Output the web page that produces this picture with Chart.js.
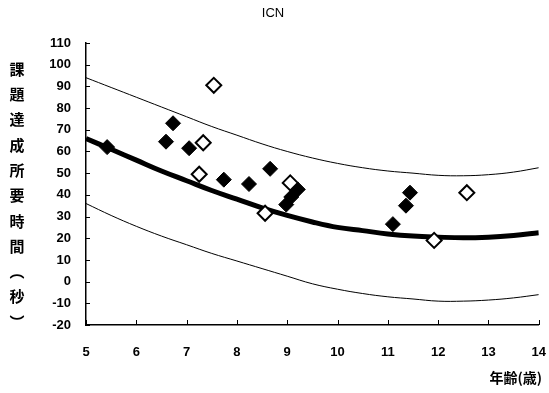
<!DOCTYPE html>
<html>
<head>
<meta charset="utf-8">
<script src="https://cdn.jsdelivr.net/npm/chart.js@4"></script>
<style>
  html, body { margin: 0; padding: 0; background: #fff; }
  #wrap { width: 549px; height: 393px; position: relative; }
</style>
</head>
<body>
<div id="wrap"><canvas id="grafica"></canvas></div>
<script>
// ages along the fitted curves
const edades = [5, 5.5, 6, 6.5, 7, 7.5, 8, 8.5, 9, 9.5, 10, 10.5, 11, 11.5, 12, 12.5, 13, 13.5, 14]
const curvaMedia = [66, 61, 56, 51, 46.5, 42, 38, 34, 30.5, 27.5, 25, 23.5, 22, 21, 20.5, 20.2, 20.5, 21.3, 22.5]
const curvaSuperior = [94, 89.5, 85, 80.5, 76, 71.5, 67.5, 63.5, 60, 57, 54.5, 52.5, 51, 50, 49, 48.8, 49.3, 50.5, 52.5]
const curvaInferior = [36, 30.5, 25.5, 21, 17, 13, 9.5, 6, 2.5, -1, -3.5, -5.5, -7, -8, -9, -9, -8.5, -7.5, -6]

// filled diamonds
const llenosX = [5.42, 6.59, 6.73, 7.05, 7.74, 8.24, 8.66, 8.98, 9.08, 9.21, 11.1, 11.36, 11.44]
const llenosY = [62, 64.5, 73, 61.5, 47, 45, 52, 35.5, 39, 42.5, 26.5, 35, 41]
// hollow diamonds
const vaciosX = [7.25, 7.33, 7.54, 8.56, 9.06, 11.92, 12.57]
const vaciosY = [49.5, 64, 90.5, 31.5, 45.5, 19, 41]

const ticksY = [-20, 110, 10]
const ticksX = [5, 14, 1]

const titulo = 'ICN'
const tituloY = ['課', '題', '達', '成', '所', '要', '時', '間', '︵', '秒', '︶']
const tituloX = '年齢(歳)'

const pares = (xs, ys) => xs.map((x, i) => ({ x: x, y: ys[i] }))

const textos = {
    id: 'textos',
    afterDraw(chart) {
        const ctx = chart.ctx
        const { x, y } = chart.scales
        ctx.save()
        // inside tick marks
        ctx.strokeStyle = '#000'
        ctx.lineWidth = 1
        ctx.beginPath()
        y.ticks.forEach(t => {
            const py = Math.round(y.getPixelForValue(t.value)) + 0.5
            ctx.moveTo(chart.chartArea.left, py)
            ctx.lineTo(chart.chartArea.left + 4, py)
        })
        x.ticks.forEach(t => {
            const px = Math.round(x.getPixelForValue(t.value)) + 0.5
            ctx.moveTo(px, chart.chartArea.bottom)
            ctx.lineTo(px, chart.chartArea.bottom - 5)
        })
        ctx.stroke()

        ctx.fillStyle = '#000'
        ctx.textAlign = 'center'
        ctx.textBaseline = 'middle'
        ctx.font = '13px "Liberation Sans", Arial, sans-serif'
        ctx.fillText(titulo, 273, 13)

        ctx.font = 'bold 15px "Noto Sans CJK JP", sans-serif'
        tituloY.forEach((c, i) => {
            ctx.fillText(c, 17, 69 + i * 25.3)
        })
        ctx.font = 'bold 14px "Noto Sans CJK JP", sans-serif'
        ctx.textAlign = 'right'
        ctx.fillText(tituloX, 542, 378)
        ctx.restore()
    }
}

new Chart(document.querySelector('#grafica'), {
    type: 'scatter',
    data: {
        datasets: [
            {
                label: 'vacios',
                data: pares(vaciosX, vaciosY),
                pointStyle: 'rectRot',
                pointRadius: 7.5,
                pointHoverRadius: 7.5,
                pointBackgroundColor: '#fff',
                pointBorderColor: '#000',
                pointBorderWidth: 2,
                order: 1
            },
            {
                label: 'llenos',
                data: pares(llenosX, llenosY),
                pointStyle: 'rectRot',
                pointRadius: 7.5,
                pointHoverRadius: 7.5,
                pointBackgroundColor: '#000',
                pointBorderColor: '#000',
                pointBorderWidth: 1,
                order: 2
            },
            {
                label: 'media',
                type: 'line',
                data: pares(edades, curvaMedia),
                borderColor: '#000',
                borderWidth: 5,
                pointRadius: 0,
                tension: 0.4,
                fill: false,
                order: 3
            },
            {
                label: 'superior',
                type: 'line',
                data: pares(edades, curvaSuperior),
                borderColor: '#000',
                borderWidth: 1,
                pointRadius: 0,
                tension: 0.4,
                fill: false,
                order: 4
            },
            {
                label: 'inferior',
                type: 'line',
                data: pares(edades, curvaInferior),
                borderColor: '#000',
                borderWidth: 1,
                pointRadius: 0,
                tension: 0.4,
                fill: false,
                order: 5
            }
        ]
    },
    options: {
        responsive: true,
        maintainAspectRatio: false,
        animation: false,
        layout: { padding: { left: 0, right: 10, top: 43, bottom: 28 } },
        plugins: {
            legend: { display: false },
            tooltip: { enabled: false },
            title: { display: false }
        },
        scales: {
            x: {
                type: 'linear',
                min: ticksX[0],
                max: ticksX[1],
                grid: { display: false, drawTicks: true, tickLength: 17 },
                border: { display: true, color: '#000', width: 1.5 },
                ticks: {
                    stepSize: ticksX[2],
                    padding: 3,
                    color: '#000',
                    font: { family: '"Liberation Sans", Arial, sans-serif', size: 13, weight: 'bold' }
                },
                afterFit: s => { s.height = 40 }
            },
            y: {
                min: ticksY[0],
                max: ticksY[1],
                grid: { display: false, drawTicks: true, tickLength: 12 },
                border: { display: true, color: '#000', width: 1.5 },
                ticks: {
                    stepSize: ticksY[2],
                    padding: 3,
                    color: '#000',
                    font: { family: '"Liberation Sans", Arial, sans-serif', size: 13, weight: 'bold' }
                },
                afterFit: s => { s.width = 86 }
            }
        }
    },
    plugins: [textos]
})
</script>
</body>
</html>
